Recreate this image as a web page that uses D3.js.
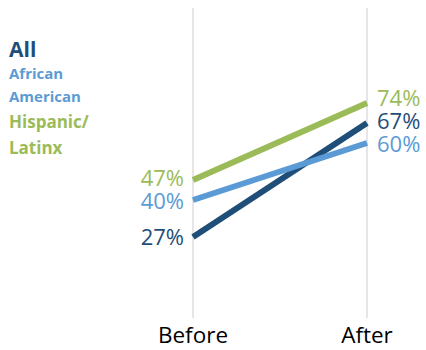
<!DOCTYPE html>
<html>
<head>
<meta charset="utf-8">
<script src="https://cdn.jsdelivr.net/npm/d3@7"></script>
<style>
  body { margin: 0; background: #fff; }
  text { font-family: "Open Sans", "Noto Sans", sans-serif; }
</style>
</head>
<body>
<svg id="chart" width="426" height="350"></svg>
<script>
// Share before and after, per group
const periods = ["Before", "After"];
const groups = ["All", "African American", "Hispanic/Latinx"];
const allValues = [27, 67];
const africanAmericanValues = [40, 60];
const hispanicValues = [47, 74];
const colors = ["#1f4e79", "#5b9bd5", "#9bbb59"];

const series = [
  { name: groups[0], values: allValues, color: colors[0] },
  { name: groups[1], values: africanAmericanValues, color: colors[1] },
  { name: groups[2], values: hispanicValues, color: colors[2] }
];

const svg = d3.select("#chart");

const x = d3.scalePoint().domain(periods).range([193, 367]);
const y = d3.scaleLinear().domain([0, 100]).range([314, 29]);

// vertical gridlines at each period
svg.append("g").selectAll("line")
  .data(periods)
  .join("line")
  .attr("x1", d => x(d)).attr("x2", d => x(d))
  .attr("y1", 8).attr("y2", 318)
  .attr("stroke", "#e6e6e6")
  .attr("stroke-width", 2);

// period labels
svg.append("g").selectAll("text")
  .data(periods)
  .join("text")
  .attr("x", d => x(d))
  .attr("y", 343)
  .attr("text-anchor", "middle")
  .attr("font-size", 22.5)
  .attr("fill", "#000")
  .text(d => d);

// slope lines
const line = d3.line()
  .x((d, i) => x(periods[i]))
  .y(d => y(d));

svg.append("g").selectAll("path")
  .data(series)
  .join("path")
  .attr("d", d => line(d.values))
  .attr("fill", "none")
  .attr("stroke", d => d.color)
  .attr("stroke-width", 6);

// value labels, left side
const leftOffsets = [0, 1, -2];
svg.append("g").selectAll("text")
  .data(series)
  .join("text")
  .attr("x", x(periods[0]) - 9)
  .attr("y", (d, i) => y(d.values[0]) + leftOffsets[i])
  .attr("dy", "0.35em")
  .attr("text-anchor", "end")
  .attr("font-size", 22)
  .attr("fill", d => d.color)
  .text(d => d.values[0] + "%");

// value labels, right side
const rightOffsets = [-2, 1, -5];
svg.append("g").selectAll("text")
  .data(series)
  .join("text")
  .attr("x", x(periods[1]) + 10)
  .attr("y", (d, i) => y(d.values[1]) + rightOffsets[i])
  .attr("dy", "0.35em")
  .attr("text-anchor", "start")
  .attr("font-size", 22)
  .attr("fill", d => d.color)
  .text(d => d.values[1] + "%");

// legend
const legend = svg.append("g").attr("font-weight", "bold");
legend.append("text").attr("x", 9).attr("y", 57)
  .attr("font-size", 21).attr("fill", colors[0]).text("All");
legend.append("text").attr("x", 9).attr("y", 79)
  .attr("font-size", 15).attr("fill", colors[1]).text("African");
legend.append("text").attr("x", 9).attr("y", 102)
  .attr("font-size", 15).attr("fill", colors[1]).text("American");
legend.append("text").attr("x", 9).attr("y", 128)
  .attr("font-size", 17).attr("fill", colors[2]).text("Hispanic/");
legend.append("text").attr("x", 9).attr("y", 154)
  .attr("font-size", 17).attr("fill", colors[2]).text("Latinx");
</script>
</body>
</html>
